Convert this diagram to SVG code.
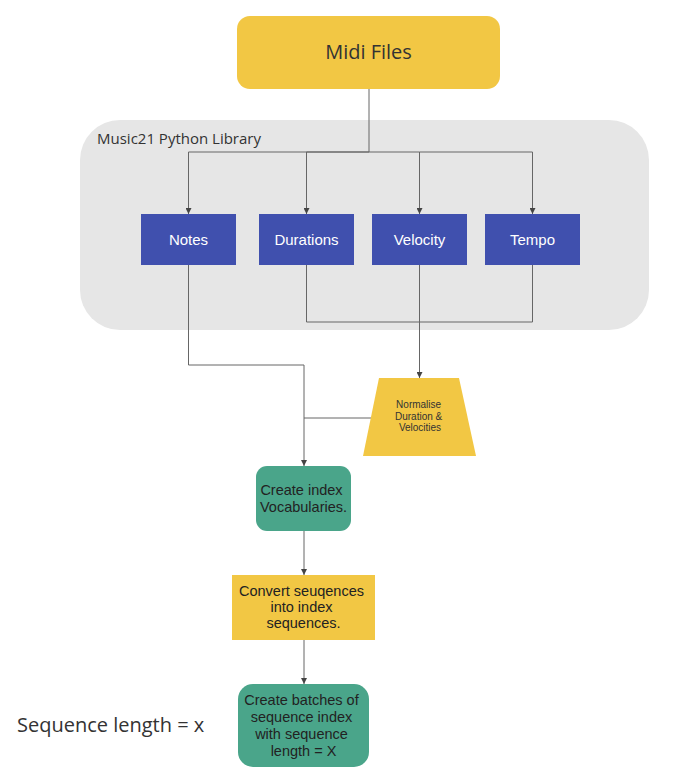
<svg xmlns="http://www.w3.org/2000/svg" width="696" height="784" viewBox="0 0 696 784">
  <defs>
    <marker id="arrow" viewBox="0 0 6 6" refX="6" refY="3" markerWidth="6" markerHeight="6" orient="auto" markerUnits="userSpaceOnUse">
      <path d="M0,0 L6,3 L0,6 z" fill="#444"/>
    </marker>
    <style>
      .edge { fill: none; stroke: #666; stroke-width: 1; }
      .arr { marker-end: url(#arrow); }
      .yellow { fill: #F2C744; }
      .green { fill: #4AA58A; }
      .blue { fill: #4050AE; }
      .sans { font-family: "Open Sans", "Liberation Sans", sans-serif; fill: #333; }
      .arial { font-family: "Liberation Sans", Arial, sans-serif; text-anchor: middle; }
      .white { fill: #fff; font-size: 15px; }
      .dark { fill: #222; font-size: 14.5px; }
    </style>
  </defs>
  <rect width="696" height="784" fill="#fff"/>

  <!-- library container -->
  <g id="library">
    <rect x="80" y="120" width="569" height="210" rx="40" fill="#E6E6E6"/>
    <text class="sans" x="97" y="144" font-size="15">Music21 Python Library</text>
  </g>

  <!-- connectors -->
  <g id="connectors">
    <path class="edge" d="M369,89 V152"/>
    <path class="edge arr" d="M369,152 H188.5 V214"/>
    <path class="edge arr" d="M369,152 H306.5 V214"/>
    <path class="edge arr" d="M369,152 H419.5 V214"/>
    <path class="edge arr" d="M419.5,152 H532.5 V214"/>
    <path class="edge" d="M306.5,265 V322 H532.5 V265"/>
    <path class="edge arr" d="M419.5,265 V378"/>
    <path class="edge arr" d="M188.5,265 V365 H304 V466"/>
    <path class="edge" d="M371,418 H304"/>
    <path class="edge arr" d="M304,531 V575"/>
    <path class="edge arr" d="M304,640 V684"/>
  </g>

  <g id="midi-files">
    <rect class="yellow" x="237" y="16" width="263" height="73" rx="13"/>
    <text class="sans" x="368.5" y="59" font-size="20" text-anchor="middle">Midi Files</text>
  </g>

  <g id="notes">
    <rect class="blue" x="141" y="214" width="95" height="51"/>
    <text class="arial white" x="188.5" y="245">Notes</text>
  </g>
  <g id="durations">
    <rect class="blue" x="259" y="214" width="95" height="51"/>
    <text class="arial white" x="306.5" y="245">Durations</text>
  </g>
  <g id="velocity">
    <rect class="blue" x="372" y="214" width="95" height="51"/>
    <text class="arial white" x="419.5" y="245">Velocity</text>
  </g>
  <g id="tempo">
    <rect class="blue" x="485" y="214" width="95" height="51"/>
    <text class="arial white" x="532.5" y="245">Tempo</text>
  </g>

  <g id="normalise">
    <polygon class="yellow" points="379,378 459,378 476,456 363,456"/>
    <text class="arial" x="420" y="408" font-size="10" fill="#333">
      <tspan x="420">Normalise</tspan>
      <tspan x="420" dy="11.5">Duration &amp;</tspan>
      <tspan x="420" dy="11.5">Velocities</tspan>
    </text>
  </g>

  <g id="vocab">
    <rect class="green" x="256" y="466" width="95" height="65" rx="11"/>
    <text class="arial dark" x="303.5" y="495">
      <tspan x="303.5">Create index</tspan>
      <tspan x="303.5" dy="17">Vocabularies.</tspan>
    </text>
  </g>

  <g id="convert">
    <rect class="yellow" x="232" y="575" width="143" height="65"/>
    <text class="arial dark" x="303.5" y="596">
      <tspan x="303.5">Convert seuqences</tspan>
      <tspan x="303.5" dy="16">into index</tspan>
      <tspan x="303.5" dy="16">sequences.</tspan>
    </text>
  </g>

  <g id="batches">
    <rect class="green" x="238" y="684" width="131" height="83" rx="15"/>
    <text class="arial dark" x="303.5" y="705">
      <tspan x="303.5">Create batches of</tspan>
      <tspan x="303.5" dy="17">sequence index</tspan>
      <tspan x="303.5" dy="17">with sequence</tspan>
      <tspan x="303.5" dy="17">length = X</tspan>
    </text>
  </g>

  <g id="seq-length">
    <text class="sans" x="17" y="732" font-size="20">Sequence length = x</text>
  </g>
</svg>
